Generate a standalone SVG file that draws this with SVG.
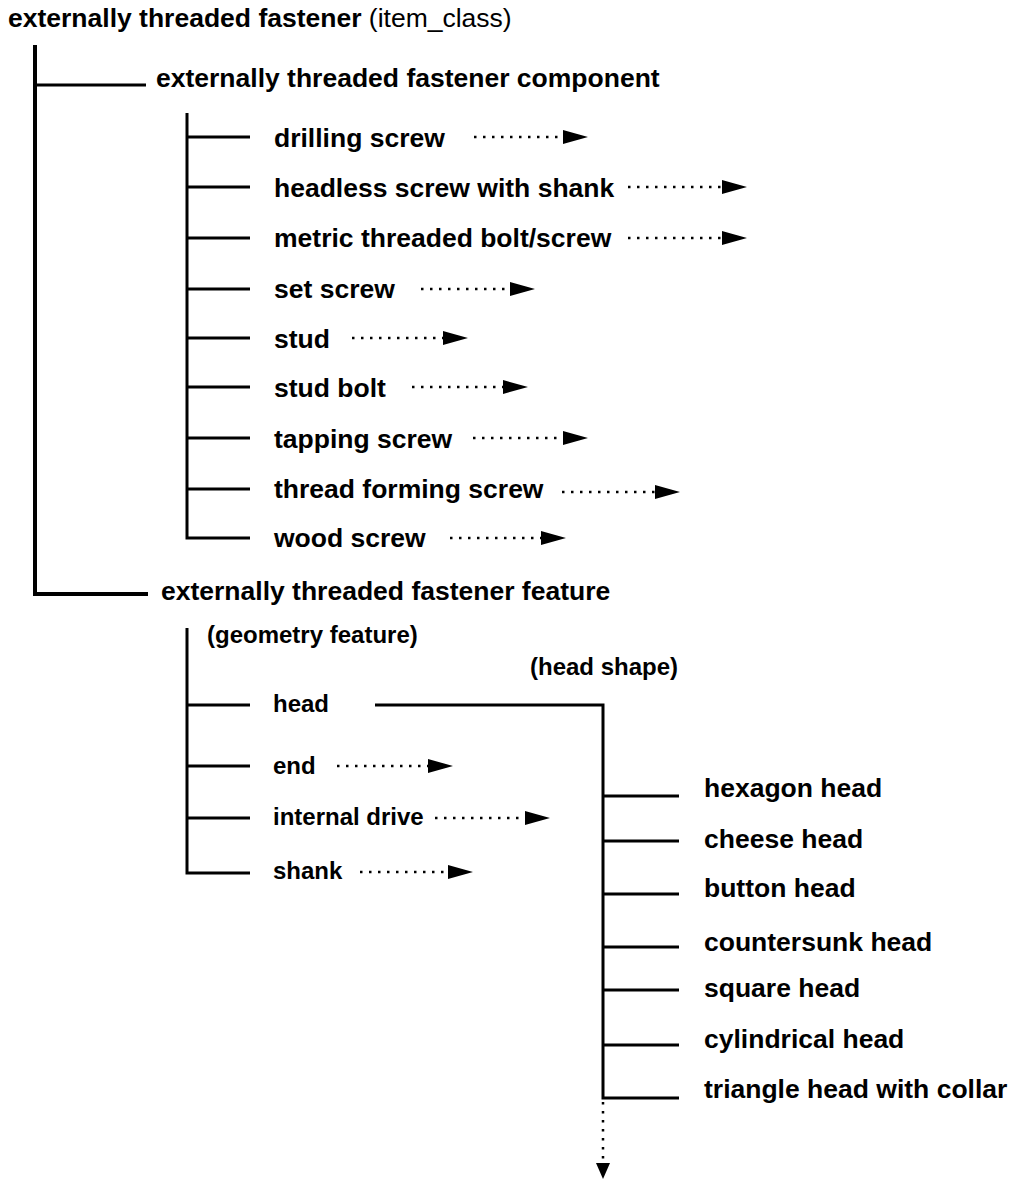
<svg xmlns="http://www.w3.org/2000/svg" width="1014" height="1187" viewBox="0 0 1014 1187">
  <style>
    text { font-family: "Liberation Sans", Arial, sans-serif; font-weight: bold; fill: #000; }
    .big { font-size: 26.5px; }
    .small { font-size: 24px; }
    .reg { font-weight: normal; }
    .trunk { stroke: #000; stroke-width: 4; fill: none; }
    .line { stroke: #000; stroke-width: 3; fill: none; }
    .dots { stroke: #000; stroke-width: 2.5; stroke-dasharray: 2.5 6.5; fill: none; }
  </style>
  <defs>
    <marker id="head-r" markerUnits="userSpaceOnUse" markerWidth="25" markerHeight="14" refX="0" refY="7" orient="auto">
      <path d="M0,0 L25,7 L0,14 Z" fill="#000"/>
    </marker>
    <marker id="head-d" markerUnits="userSpaceOnUse" markerWidth="16" markerHeight="14" refX="0" refY="7" orient="auto">
      <path d="M0,0 L16,7 L0,14 Z" fill="#000"/>
    </marker>
  </defs>
  <rect width="1014" height="1187" fill="#fff"/>

  <!-- tree lines and references -->
  <g id="connectors">
    <!-- root trunk -->
    <path class="trunk" d="M35,45 V594 H148"/>
    <path class="line" d="M35,85 H146"/>

    <!-- component branches -->
    <path class="line" d="M187,113 V538 H250"/>
    <path class="line" d="M187,137 H250 M187,187 H250 M187,238 H250 M187,289 H250 M187,338 H250 M187,387 H250 M187,438 H250 M187,489 H250"/>

    <!-- feature branches -->
    <path class="line" d="M187,628 V873 H250"/>
    <path class="line" d="M187,705 H250 M187,766 H250 M187,818 H250"/>

    <!-- head shape branches -->
    <path class="line" d="M375,705 H603 V1098 H679"/>
    <path class="line" d="M603,796 H679 M603,841 H679 M603,894 H679 M603,947 H679 M603,990 H679 M603,1045 H679"/>

    <!-- dotted references -->
    <g marker-end="url(#head-r)">
      <path class="dots" d="M474,137 H563"/>
      <path class="dots" d="M628,187 H722"/>
      <path class="dots" d="M628,238 H722"/>
      <path class="dots" d="M421,289 H510"/>
      <path class="dots" d="M352,338 H443"/>
      <path class="dots" d="M412,387 H503"/>
      <path class="dots" d="M473,438 H563"/>
      <path class="dots" d="M562,492 H655"/>
      <path class="dots" d="M450,538 H541"/>
      <path class="dots" d="M337,766 H428"/>
      <path class="dots" d="M435,818 H525"/>
      <path class="dots" d="M360,872 H448"/>
    </g>
    <path class="dots" d="M603,1102 V1163" marker-end="url(#head-d)"/>
  </g>

  <g id="root">
    <text class="big" x="8" y="27">externally threaded fastener <tspan class="reg">(item_class)</tspan></text>
  </g>

  <g id="component">
    <text class="big" x="156" y="87">externally threaded fastener component</text>
  </g>
  <g id="drilling-screw"><text class="big" x="274" y="147">drilling screw</text></g>
  <g id="headless-screw"><text class="big" x="274" y="197">headless screw with shank</text></g>
  <g id="metric-bolt"><text class="big" x="274" y="247">metric threaded bolt/screw</text></g>
  <g id="set-screw"><text class="big" x="274" y="298">set screw</text></g>
  <g id="stud"><text class="big" x="274" y="348">stud</text></g>
  <g id="stud-bolt"><text class="big" x="274" y="397">stud bolt</text></g>
  <g id="tapping-screw"><text class="big" x="274" y="448">tapping screw</text></g>
  <g id="thread-forming-screw"><text class="big" x="274" y="498">thread forming screw</text></g>
  <g id="wood-screw"><text class="big" x="274" y="547">wood screw</text></g>

  <g id="feature">
    <text class="big" x="161" y="600">externally threaded fastener feature</text>
    <text class="small" x="207" y="643">(geometry feature)</text>
  </g>
  <g id="head"><text class="small" x="273" y="712">head</text></g>
  <g id="end"><text class="small" x="273" y="774">end</text></g>
  <g id="internal-drive"><text class="small" x="273" y="825">internal drive</text></g>
  <g id="shank"><text class="small" x="273" y="879">shank</text></g>

  <g id="head-shape">
    <text class="small" x="530" y="675">(head shape)</text>
  </g>
  <g id="hexagon-head"><text class="big" x="704" y="797">hexagon head</text></g>
  <g id="cheese-head"><text class="big" x="704" y="848">cheese head</text></g>
  <g id="button-head"><text class="big" x="704" y="897">button head</text></g>
  <g id="countersunk-head"><text class="big" x="704" y="951">countersunk head</text></g>
  <g id="square-head"><text class="big" x="704" y="997">square head</text></g>
  <g id="cylindrical-head"><text class="big" x="704" y="1048">cylindrical head</text></g>
  <g id="triangle-head"><text class="big" x="704" y="1098">triangle head with collar</text></g>
</svg>
